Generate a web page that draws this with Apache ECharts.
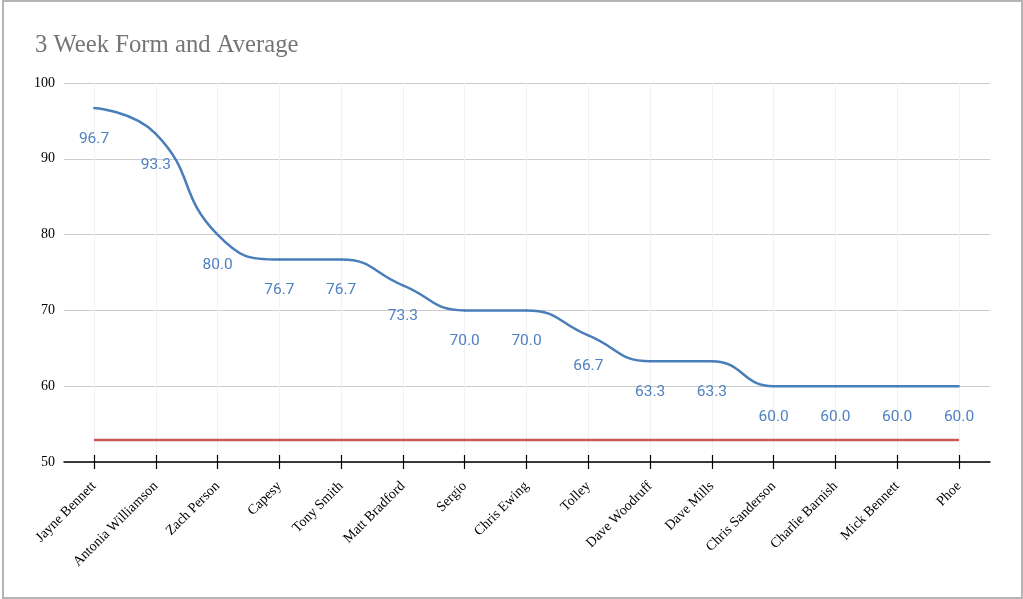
<!DOCTYPE html>
<html>
<head>
<meta charset="utf-8">
<script src="https://cdn.jsdelivr.net/npm/echarts@6/dist/echarts.min.js"></script>
<style>
html,body{margin:0;padding:0;background:#fff;}
#frame{position:absolute;left:2px;top:0px;width:1017px;height:595px;border:2px solid #b4b4b4;box-sizing:content-box;}
#chart{position:absolute;left:0;top:0;width:1023px;height:599px;}
</style>
</head>
<body>
<div id="frame"></div>
<div id="chart"></div>
<script>
const categories = ["Jayne Bennett","Antonia Williamson","Zach Person","Capesy","Tony Smith","Matt Bradford","Sergio","Chris Ewing","Tolley","Dave Woodruff","Dave Mills","Chris Sanderson","Charlie Barnish","Mick Bennett","Phoe"];
const formValues = [96.7,93.3,80.0,76.7,76.7,73.3,70.0,70.0,66.7,63.3,63.3,60.0,60.0,60.0,60.0];
const averageValues = [52.9,52.9,52.9,52.9,52.9,52.9,52.9,52.9,52.9,52.9,52.9,52.9,52.9,52.9,52.9];
const yTicks = {min:50, max:100, interval:10};

const chart = echarts.init(document.getElementById('chart'));
const yBase = {
  type:'value', min:yTicks.min, max:yTicks.max, interval:yTicks.interval,
  axisLine:{show:false}, axisTick:{show:false}
};
chart.setOption({
  animation:false,
  title:{text:'3 Week Form and Average', left:30, top:28,
    textStyle:{fontFamily:'Liberation Serif', fontWeight:'normal', fontSize:24.7, color:'#757575'}},
  grid:[
    {left:64, right:33, top:83, bottom:137},
    {left:94, right:64, top:83, bottom:137}
  ],
  xAxis:[{
    gridIndex:0, type:'category', data:categories, boundaryGap:true,
    axisLine:{lineStyle:{color:'#000', width:1.5}},
    axisTick:{show:false},
    axisLabel:{show:false}, splitLine:{show:false}
  },{
    gridIndex:1, type:'category', data:categories, boundaryGap:false,
    axisLine:{show:false},
    axisTick:{show:true, interval:0, length:7, lineStyle:{color:'#000', width:1.2}},
    axisLabel:{rotate:45, interval:0, fontFamily:'Liberation Serif', fontSize:14, color:'#000', margin:22},
    splitLine:{show:true, interval:0, lineStyle:{color:'#f0f0f0', width:1}}
  },{
    gridIndex:1, type:'category', data:categories, boundaryGap:false, position:'bottom',
    axisLine:{show:false},
    axisTick:{show:true, interval:0, inside:true, length:7, lineStyle:{color:'#000', width:1.2}},
    axisLabel:{show:false}, splitLine:{show:false}
  }],
  yAxis:[
    Object.assign({}, yBase, {gridIndex:0,
      axisLabel:{fontFamily:'Liberation Serif', fontSize:14, color:'#000', margin:9},
      splitLine:{lineStyle:{color:'#cccccc', width:1}}}),
    Object.assign({}, yBase, {gridIndex:1, axisLabel:{show:false}, splitLine:{show:false}})
  ],
  series:[{
    type:'line', xAxisIndex:1, yAxisIndex:1, data:averageValues, symbol:'none',
    lineStyle:{color:'#cc5555', width:2.5}, z:2
  },{
    type:'line', xAxisIndex:1, yAxisIndex:1, data:formValues, smooth:0.5,
    symbol:'circle', symbolSize:2, showSymbol:true,
    itemStyle:{color:'#4a7ebb', borderWidth:0},
    lineStyle:{color:'#4a7ebb', width:2.5}, z:3,
    label:{show:true, position:'bottom', distance:22, color:'#4f80c2',
      fontFamily:'Roboto', fontSize:15.5,
      formatter:p=>p.value.toFixed(1)}
  }]
});
</script>
</body>
</html>
